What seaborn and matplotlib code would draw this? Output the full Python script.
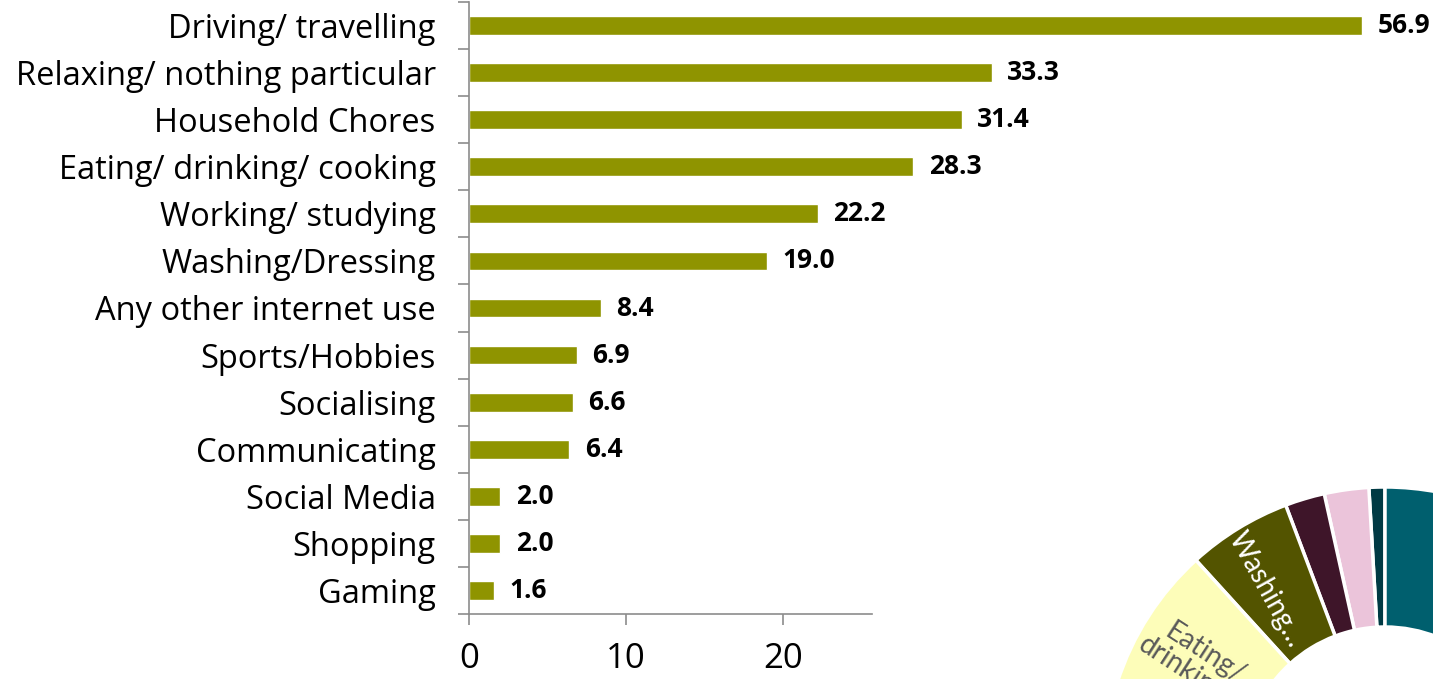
import numpy as np
import seaborn as sns
import matplotlib.pyplot as plt
from matplotlib.ticker import FixedLocator

# bar chart data (percent)
activities = ['Driving/ travelling', 'Relaxing/ nothing particular', 'Household Chores',
              'Eating/ drinking/ cooking', 'Working/ studying', 'Washing/Dressing',
              'Any other internet use', 'Sports/Hobbies', 'Socialising', 'Communicating',
              'Social Media', 'Shopping', 'Gaming']
share = [56.9, 33.3, 31.4, 28.3, 22.2, 19.0, 8.4, 6.9, 6.6, 6.4, 2.0, 2.0, 1.6]
x_ticks = [0, 10, 20]

# donut peeking in from the lower right corner (degrees of the ring)
ring_labels = ['', '', '', 'Washing…', 'Eating/\ndrinking…', '', '', '']
ring_sizes = [3.3, 9.2, 8.2, 21.6, 60, 70, 100, 87.7]
ring_colors = ['#003a44', '#ebc4da', '#3e1529', '#535400', '#fdfdb9', '#9a9a9a', '#4a6f8a', '#005f6e']

sns.set_style('white')
plt.rcParams['font.family'] = ['Open Sans', 'DejaVu Sans']
plt.rcParams['text.color'] = 'black'
plt.rcParams['xtick.color'] = 'black'
plt.rcParams['ytick.color'] = 'black'

fig = plt.figure(figsize=(14.33, 6.79), dpi=100)

# background donut, drawn in pixel units
ax_bg = fig.add_axes([0, 0, 1, 1], zorder=0)
ax_bg.pie(ring_sizes, colors=ring_colors, startangle=90, counterclock=True,
          radius=281, center=(1385, -89),
          wedgeprops=dict(width=140, edgecolor='white', linewidth=2.5))
ax_bg.set_xlim(0, 1433)
ax_bg.set_ylim(0, 679)
ax_bg.set_aspect('auto')
ax_bg.axis('off')
ax_bg.text(1266, 679 - 590, ring_labels[3], rotation=-61, color='white',
           ha='center', va='center', fontsize=20, family=['Lato', 'DejaVu Sans'])
ax_bg.text(1198, 679 - 664, ring_labels[4], rotation=-33, color='#595959',
           ha='center', va='center', fontsize=20, linespacing=0.95,
           family=['Lato', 'DejaVu Sans'])

# main bar chart
ax = fig.add_axes([469 / 1433, 65 / 679, 964 / 1433, 612 / 679], zorder=1)
ax.patch.set_alpha(0)
sns.barplot(x=share, y=activities, color='#8f9400', saturation=1, width=0.4, ax=ax)
ax.bar_label(ax.containers[0], fmt='%.1f', padding=11, fontsize=19, fontweight='bold')

ax.set_xlim(0, 964 / 15.7)
ax.set_xticks(x_ticks)
ax.set_xlabel('')
ax.set_ylabel('')

grey = '#8c8c8c'
for side in ['top', 'right']:
    ax.spines[side].set_visible(False)
for side in ['left', 'bottom']:
    ax.spines[side].set_color(grey)
    ax.spines[side].set_linewidth(1.2)
ax.spines['bottom'].set_bounds(0, 25.7)

ax.yaxis.set_minor_locator(FixedLocator(np.arange(-0.5, 13, 1)))
ax.tick_params(axis='y', which='major', length=0, pad=24, labelsize=23.5)
ax.tick_params(axis='y', which='minor', left=True, length=8, width=1.2, color=grey)
ax.tick_params(axis='x', which='major', bottom=True, length=8, width=1.2, color=grey,
               pad=12, labelsize=25)

fig.savefig('out.png', dpi=100)
